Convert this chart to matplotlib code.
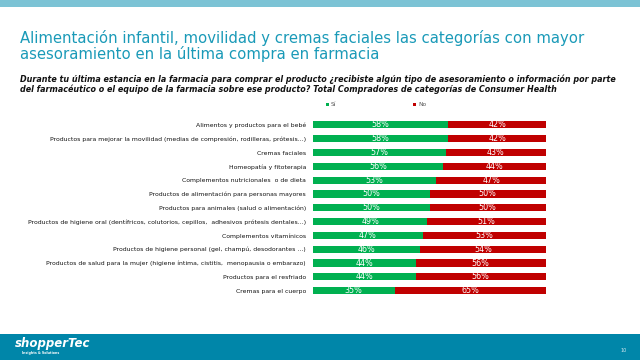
import matplotlib
matplotlib.use("Agg")
import matplotlib.pyplot as plt
from matplotlib.patches import Rectangle

categories = [
    "Alimentos y productos para el bebé",
    "Productos para mejorar la movilidad (medias de compresión, rodilleras, prótesis...)",
    "Cremas faciales",
    "Homeopatía y fitoterapia",
    "Complementos nutricionales  o de dieta",
    "Productos de alimentación para personas mayores",
    "Productos para animales (salud o alimentación)",
    "Productos de higiene oral (dentífricos, colutorios, cepillos,  adhesivos prótesis dentales...)",
    "Complementos vitamínicos",
    "Productos de higiene personal (gel, champú, desodorantes ...)",
    "Productos de salud para la mujer (higiene íntima, cistitis,  menopausia o embarazo)",
    "Productos para el resfriado",
    "Cremas para el cuerpo",
]
si = [58, 58, 57, 56, 53, 50, 50, 49, 47, 46, 44, 44, 35]
no = [42, 42, 43, 44, 47, 50, 50, 51, 53, 54, 56, 56, 65]
series_names = ["Sí", "No"]

GREEN = "#00b050"
RED = "#c00000"

W, H = 640, 360
fig = plt.figure(figsize=(6.4, 3.6), dpi=100)
fig.patch.set_facecolor("white")

# bands
fig.patches.append(Rectangle((0, 1 - 7 / H), 1, 7 / H, transform=fig.transFigure,
                             facecolor="#7cc3d5", edgecolor="none", zorder=0))
fig.patches.append(Rectangle((0, 0), 1, 26 / H, transform=fig.transFigure,
                             facecolor="#0086a9", edgecolor="none", zorder=0))

# title
fig.text(20 / W, 1 - 38 / H, "Alimentación infantil, movilidad y cremas faciales las categorías con mayor",
         color="#1a9ab8", fontsize=10.7, ha="left", va="center", family="DejaVu Sans")
fig.text(20 / W, 1 - 54 / H, "asesoramiento en la última compra en farmacia",
         color="#1a9ab8", fontsize=10.7, ha="left", va="center", family="DejaVu Sans")

# subtitle
fig.text(20 / W, 1 - 79 / H,
         "Durante tu última estancia en la farmacia para comprar el producto ¿recibiste algún tipo de asesoramiento o información por parte",
         color="#111111", fontsize=5.75, fontweight="bold", style="italic", ha="left", va="center")
fig.text(20 / W, 1 - 89 / H,
         "del farmacéutico o el equipo de la farmacia sobre ese producto? Total Compradores de categorías de Consumer Health",
         color="#111111", fontsize=5.75, fontweight="bold", style="italic", ha="left", va="center")

# axes
left_px, right_px = 313, 546
top_px, bot_px = 118, 297.6
ax = fig.add_axes([left_px / W, 1 - bot_px / H, (right_px - left_px) / W, (bot_px - top_px) / H])
y = list(range(len(categories)))
ax.barh(y, si, color=GREEN, height=0.52, label=series_names[0])
ax.barh(y, no, left=si, color=RED, height=0.52, label=series_names[1])
for i in y:
    ax.text(si[i] / 2, i, f"{si[i]}%", color="white", fontsize=5.8, ha="center", va="center")
    ax.text(si[i] + no[i] / 2, i, f"{no[i]}%", color="white", fontsize=5.8, ha="center", va="center")
ax.set_xlim(0, 100)
ax.set_ylim(len(categories) - 0.5, -0.5)
ax.set_yticks(y)
ax.set_yticklabels(categories, fontsize=4.4, color="#111111")
ax.tick_params(axis="y", length=0, pad=5)
ax.set_xticks([])
for s in ax.spines.values():
    s.set_visible(False)

# legend
fig.patches.append(Rectangle((326 / W, 1 - 106 / H), 3 / W, 3 / H, transform=fig.transFigure,
                             facecolor=GREEN, edgecolor="none"))
fig.text(331 / W, 1 - 104.5 / H, series_names[0], fontsize=4.2, color="#555555", ha="left", va="center")
fig.patches.append(Rectangle((413 / W, 1 - 106 / H), 3 / W, 3 / H, transform=fig.transFigure,
                             facecolor=RED, edgecolor="none"))
fig.text(418 / W, 1 - 104.5 / H, series_names[1], fontsize=4.2, color="#555555", ha="left", va="center")

# footer
fig.text(15 / W, 1 - 343 / H, "shopperTec", color="white", fontsize=8.5, fontweight="bold",
         style="italic", ha="left", va="center")
fig.text(41 / W, 1 - 353 / H, "Insights & Solutions", color="white", fontsize=2.3, fontweight="bold",
         ha="center", va="center")
fig.text(624 / W, 1 - 350 / H, "10", color="#cfe6ee", fontsize=3.5, ha="center", va="center")

fig.savefig("out.png", dpi=100)
